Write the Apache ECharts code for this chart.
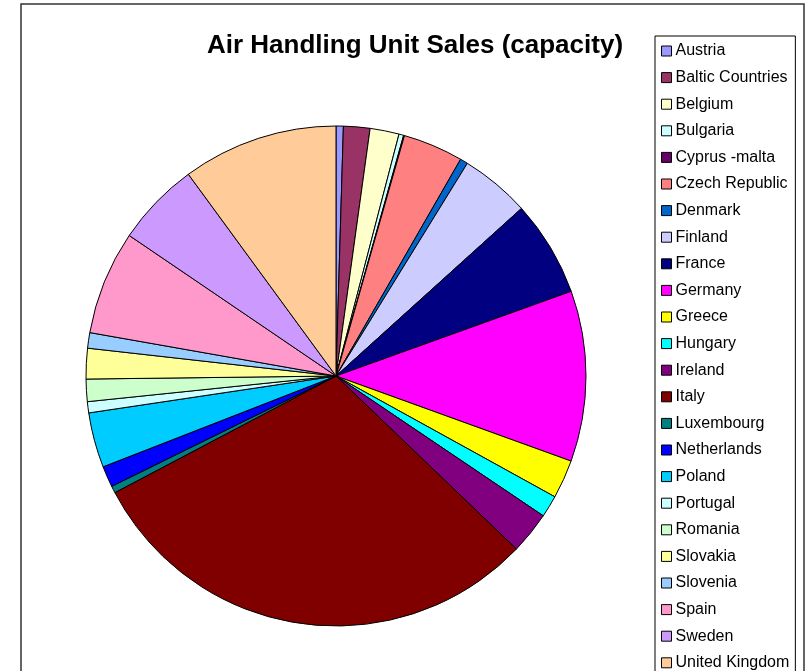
<!DOCTYPE html>
<html>
<head>
<meta charset="utf-8">
<script src="https://cdn.jsdelivr.net/npm/echarts@6/dist/echarts.min.js"></script>
<style>
  html, body { margin: 0; padding: 0; background: #fff; }
  #chart { width: 808px; height: 671px; }
</style>
</head>
<body>
<div id="chart"></div>
<script>
// Air handling unit sales by country (capacity share)
const countries = [
  'Austria', 'Baltic Countries', 'Belgium', 'Bulgaria', 'Cyprus -malta',
  'Czech Republic', 'Denmark', 'Finland', 'France', 'Germany', 'Greece',
  'Hungary', 'Ireland', 'Italy', 'Luxembourg', 'Netherlands', 'Poland',
  'Portugal', 'Romania', 'Slovakia', 'Slovenia', 'Spain', 'Sweden',
  'United Kingdom'
];
const sales = [
  1.7, 6.15, 6.75, 1.1, 0.2,
  14.0, 1.8, 16.2, 22.3, 39.7, 9.0,
  5.1, 9.8, 108.4, 1.6, 4.9, 12.8,
  2.6, 5.2, 7.1, 3.6, 24.2, 19.6,
  36.2
];
const sliceColors = [
  '#9999FF', '#993366', '#FFFFCC', '#CCFFFF', '#660066',
  '#FF8080', '#0066CC', '#CCCCFF', '#000080', '#FF00FF', '#FFFF00',
  '#00FFFF', '#800080', '#800000', '#008080', '#0000FF', '#00CCFF',
  '#CCFFFF', '#CCFFCC', '#FFFF99', '#99CCFF', '#FF99CC', '#CC99FF',
  '#FFCC99'
];

const chart = echarts.init(document.getElementById('chart'), null, { renderer: 'canvas' });

chart.setOption({
  animation: false,
  backgroundColor: '#ffffff',
  title: {
    text: 'Air Handling Unit Sales (capacity)',
    left: 410,
    top: 28,
    textAlign: 'center',
    textStyle: {
      fontFamily: 'Liberation Sans, Arial, sans-serif',
      fontSize: 26,
      fontWeight: 'bold',
      color: '#000'
    }
  },
  legend: {
    orient: 'vertical',
    left: 655,
    top: 36,
    width: 145,
    height: 800,
    padding: [7, 6, 5, 6],
    itemWidth: 10,
    itemHeight: 10,
    itemGap: 10.6,
    icon: 'rect',
    borderColor: '#000',
    borderWidth: 1,
    itemStyle: { borderColor: '#000', borderWidth: 1 },
    textStyle: {
      fontFamily: 'Liberation Sans, Arial, sans-serif',
      fontSize: 16,
      lineHeight: 16,
      color: '#000',
      padding: [0, 0, 0, -1]
    },
    data: countries
  },
  graphic: [{
    type: 'rect',
    shape: { x: 21, y: 4, width: 783, height: 700 },
    style: { fill: 'none', stroke: '#333', lineWidth: 1.5 },
    silent: true,
    z: -1
  }],
  series: [{
    type: 'pie',
    center: [336, 376],
    radius: 250,
    startAngle: 90,
    clockwise: true,
    avoidLabelOverlap: false,
    label: { show: false },
    labelLine: { show: false },
    emphasis: { disabled: true },
    itemStyle: { borderColor: '#000', borderWidth: 1 },
    data: countries.map((name, i) => ({
      name,
      value: sales[i],
      itemStyle: { color: sliceColors[i] }
    }))
  }]
});
</script>
</body>
</html>
